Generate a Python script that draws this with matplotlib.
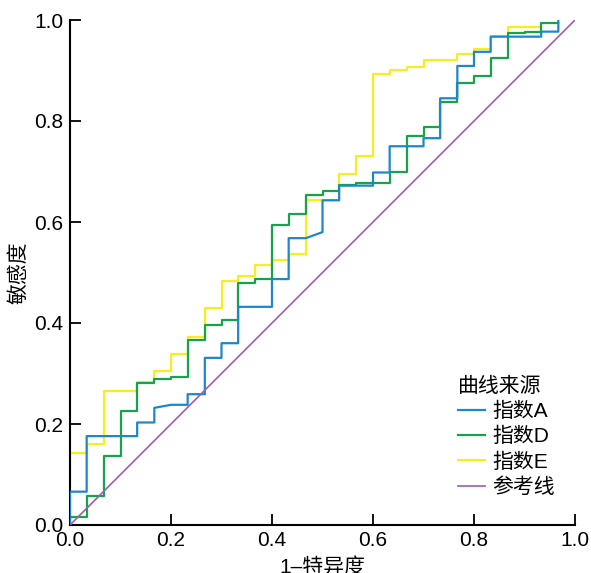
import matplotlib
matplotlib.use("Agg")
import matplotlib.pyplot as plt

plt.rcParams['font.family'] = ['Liberation Sans', 'Noto Sans CJK SC', 'DejaVu Sans']

# ROC curve vertices (1-specificity, sensitivity)
a_x = [0, 0, 0.033, 0.033, 0.133, 0.133, 0.167, 0.167, 0.2, 0.233, 0.233, 0.267, 0.267, 0.3, 0.3,
       0.333, 0.333, 0.4, 0.4, 0.433, 0.433, 0.467, 0.5, 0.5, 0.533, 0.533, 0.6, 0.6, 0.633, 0.633,
       0.7, 0.7, 0.733, 0.733, 0.767, 0.767, 0.8, 0.8, 0.833, 0.833, 0.933, 0.933, 0.967, 0.967]
a_y = [0, 0.066, 0.066, 0.176, 0.176, 0.203, 0.203, 0.232, 0.238, 0.238, 0.259, 0.259, 0.331, 0.331, 0.36,
       0.36, 0.432, 0.432, 0.487, 0.487, 0.568, 0.568, 0.58, 0.643, 0.643, 0.672, 0.672, 0.698, 0.698, 0.75,
       0.75, 0.766, 0.766, 0.845, 0.845, 0.909, 0.909, 0.937, 0.937, 0.967, 0.967, 0.977, 0.977, 1.0]

d_x = [0, 0, 0.033, 0.033, 0.067, 0.067, 0.1, 0.1, 0.133, 0.133, 0.167, 0.167, 0.2, 0.2, 0.233, 0.233,
       0.267, 0.267, 0.3, 0.3, 0.333, 0.333, 0.367, 0.367, 0.4, 0.4, 0.433, 0.433, 0.467, 0.467, 0.5, 0.5,
       0.533, 0.533, 0.567, 0.567, 0.633, 0.633, 0.667, 0.667, 0.7, 0.7, 0.733, 0.733, 0.767, 0.767,
       0.8, 0.8, 0.833, 0.833, 0.867, 0.867, 0.9, 0.9, 0.933, 0.933, 0.967]
d_y = [0, 0.015, 0.015, 0.058, 0.058, 0.137, 0.137, 0.226, 0.226, 0.282, 0.282, 0.289, 0.289, 0.294, 0.294, 0.366,
       0.366, 0.397, 0.397, 0.406, 0.406, 0.48, 0.48, 0.488, 0.488, 0.594, 0.594, 0.615, 0.615, 0.653, 0.653, 0.661,
       0.661, 0.673, 0.673, 0.678, 0.678, 0.7, 0.7, 0.771, 0.771, 0.789, 0.789, 0.838, 0.838, 0.876,
       0.876, 0.889, 0.889, 0.924, 0.924, 0.974, 0.974, 0.977, 0.977, 0.995, 0.995]

e_x = [0, 0, 0.033, 0.033, 0.067, 0.067, 0.133, 0.133, 0.167, 0.167, 0.2, 0.2, 0.233, 0.233, 0.267, 0.267,
       0.3, 0.3, 0.333, 0.333, 0.367, 0.367, 0.4, 0.4, 0.433, 0.433, 0.467, 0.467, 0.533, 0.533, 0.567, 0.567,
       0.6, 0.6, 0.633, 0.633, 0.667, 0.667, 0.7, 0.7, 0.767, 0.767, 0.8, 0.8, 0.833, 0.833, 0.867, 0.867, 0.933]
e_y = [0, 0.142, 0.142, 0.16, 0.16, 0.266, 0.266, 0.284, 0.284, 0.305, 0.305, 0.339, 0.339, 0.372, 0.372, 0.429,
       0.429, 0.483, 0.483, 0.493, 0.493, 0.515, 0.515, 0.525, 0.525, 0.536, 0.536, 0.644, 0.644, 0.696, 0.696, 0.731,
       0.731, 0.893, 0.893, 0.901, 0.901, 0.906, 0.906, 0.921, 0.921, 0.933, 0.933, 0.942, 0.942, 0.969, 0.969, 0.987, 0.987]

ref = [0, 1]
ticks = [0.0, 0.2, 0.4, 0.6, 0.8, 1.0]

fig = plt.figure(figsize=(5.91, 5.73), dpi=100)
ax = fig.add_axes([70/591, 48/573, 505/591, 505/573])

l_e, = ax.plot(e_x, e_y, color='#f8ef1a', lw=1.6, zorder=2)
l_d, = ax.plot(d_x, d_y, color='#16a34b', lw=1.6, zorder=3)
l_a, = ax.plot(a_x, a_y, color='#1c87c9', lw=1.6, zorder=4)
l_r, = ax.plot(ref, ref, color='#a25ab3', lw=1.2, zorder=5)

ax.set_xlim(0, 1)
ax.set_ylim(0, 1)
ax.set_xticks(ticks)
ax.set_yticks(ticks)
ax.set_xticklabels([f'{t:.1f}' for t in ticks])
ax.set_yticklabels([f'{t:.1f}' for t in ticks])
ax.tick_params(direction='in', length=8, width=1.3, labelsize=15, colors='black')
ax.tick_params(axis='x', pad=4.5)
ax.tick_params(axis='y', pad=5)
for s in ['top', 'right']:
    ax.spines[s].set_visible(False)
for s in ['left', 'bottom']:
    ax.spines[s].set_linewidth(1.5)

# the reference crops the x label at the bottom edge
ax.set_xlabel('1–特异度', fontsize=15, labelpad=5)
ax.set_ylabel('敏感度', fontsize=15, labelpad=4)

leg = ax.legend([l_a, l_d, l_e, l_r], ['指数A', '指数D', '指数E', '参考线'],
                title='曲线来源', loc='upper left', bbox_to_anchor=(458/591, 1 - 377/573),
                bbox_transform=fig.transFigure, frameon=False, fontsize=15, title_fontsize=15,
                handlelength=1.3, handletextpad=0.35, labelspacing=0.28, borderpad=0,
                borderaxespad=0, alignment='left')

fig.savefig('out.png', dpi=100)
